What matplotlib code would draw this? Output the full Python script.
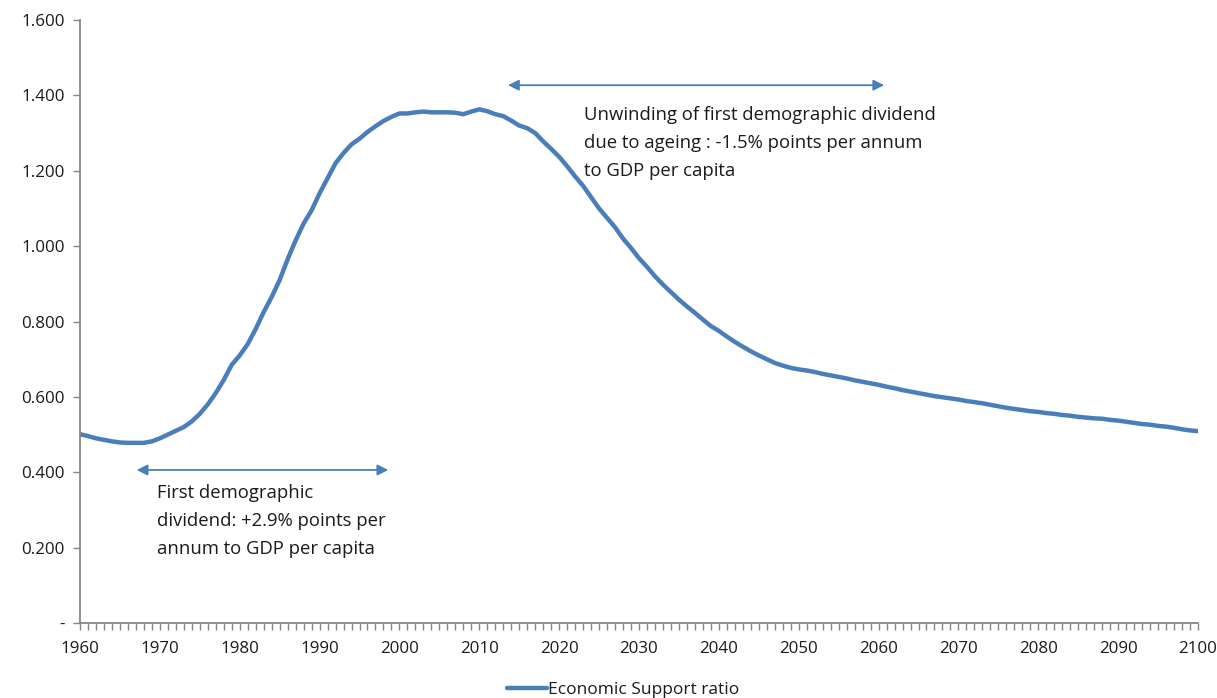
import matplotlib
matplotlib.use("Agg")
import matplotlib.pyplot as plt
from matplotlib.ticker import MultipleLocator, FuncFormatter

years = list(range(1960, 2101))
support_ratio = [
    0.501, 0.496, 0.490, 0.486, 0.482, 0.479, 0.478, 0.478, 0.478, 0.482,  # 1960s
    0.490, 0.500, 0.510, 0.520, 0.535, 0.555, 0.580, 0.610, 0.645, 0.685,  # 1970s
    0.710, 0.740, 0.780, 0.825, 0.865, 0.910, 0.965, 1.015, 1.060, 1.095,  # 1980s
    1.140, 1.180, 1.220, 1.247, 1.270, 1.285, 1.303, 1.318, 1.332, 1.343,  # 1990s
    1.352, 1.352, 1.355, 1.357, 1.355, 1.355, 1.355, 1.354, 1.350, 1.357,  # 2000s
    1.363, 1.358, 1.350, 1.345, 1.333, 1.320, 1.313, 1.300, 1.278, 1.258,  # 2010s
    1.237, 1.212, 1.185, 1.160, 1.130, 1.100, 1.075, 1.050, 1.020, 0.995,  # 2020s
    0.968, 0.945, 0.920, 0.898, 0.878, 0.858, 0.840, 0.823, 0.805, 0.788,  # 2030s
    0.775, 0.760, 0.746, 0.733, 0.721, 0.710, 0.700, 0.690, 0.683, 0.677,  # 2040s
    0.673, 0.670, 0.666, 0.661, 0.657, 0.653, 0.649, 0.644, 0.640, 0.636,  # 2050s
    0.632, 0.627, 0.623, 0.618, 0.614, 0.610, 0.606, 0.602, 0.599, 0.596,  # 2060s
    0.593, 0.589, 0.586, 0.583, 0.579, 0.575, 0.571, 0.568, 0.565, 0.562,  # 2070s
    0.560, 0.557, 0.555, 0.552, 0.550, 0.547, 0.545, 0.543, 0.542, 0.539,  # 2080s
    0.537, 0.534, 0.531, 0.528, 0.526, 0.523, 0.521, 0.518, 0.514, 0.511,  # 2090s
    0.509,                                                                 # 2100
]
series_label = "Economic Support ratio"

# Demographic dividend periods marked with double-headed arrows
dividend_span = (1967.1, 1998.6, 0.406)
dividend_text = "First demographic\ndividend: +2.9% points per\nannum to GDP per capita"
unwinding_span = (2013.6, 2060.7, 1.427)
unwinding_text = ("Unwinding of first demographic dividend\n"
                  "due to ageing : -1.5% points per annum\n"
                  "to GDP per capita")

line_color = "#4a7ebb"
axis_color = "#868686"
text_color = "#1a1a1a"

plt.rcParams["font.family"] = ["Open Sans", "DejaVu Sans"]

fig = plt.figure(figsize=(12.17, 6.98), dpi=100)
ax = fig.add_axes([80 / 1217, 75 / 698, 1118 / 1217, 603 / 698])

ax.plot(years, support_ratio, color=line_color, lw=3.2, solid_capstyle="round",
        label=series_label)

ax.set_xlim(1960, 2100)
ax.set_ylim(0, 1.6)
ax.xaxis.set_major_locator(MultipleLocator(10))
ax.xaxis.set_minor_locator(MultipleLocator(1))
ax.yaxis.set_major_locator(MultipleLocator(0.2))
ax.yaxis.set_major_formatter(FuncFormatter(lambda v, p: "-" if abs(v) < 1e-9 else f"{v:.3f}"))

for side in ("top", "right"):
    ax.spines[side].set_visible(False)
for side in ("left", "bottom"):
    ax.spines[side].set_color(axis_color)
    ax.spines[side].set_linewidth(1.3)

ax.tick_params(axis="both", which="both", direction="out", color=axis_color,
               width=1.0, labelcolor=text_color, labelsize=12.2)
ax.tick_params(axis="x", which="major", length=5, pad=8)
ax.tick_params(axis="x", which="minor", length=5)
ax.tick_params(axis="y", which="major", length=5, pad=6)

for x0, x1, yv in (dividend_span, unwinding_span):
    ax.annotate("", xy=(x0, yv), xytext=(x1, yv),
                arrowprops=dict(arrowstyle="<|-|>", color=line_color, lw=1.3,
                                mutation_scale=16, shrinkA=0, shrinkB=0))

ax.text(1969.7, 0.368, dividend_text, ha="left", va="top", fontsize=13.3,
        color=text_color, linespacing=1.72)
ax.text(2023.1, 1.372, unwinding_text, ha="left", va="top", fontsize=13.3,
        color=text_color, linespacing=1.70)

fig.legend(loc="lower center", bbox_to_anchor=(0.512, -0.023), frameon=False,
           fontsize=12.5, handlelength=2.3, handletextpad=0.05,
           labelcolor=text_color)

fig.savefig("out.png", dpi=100)
